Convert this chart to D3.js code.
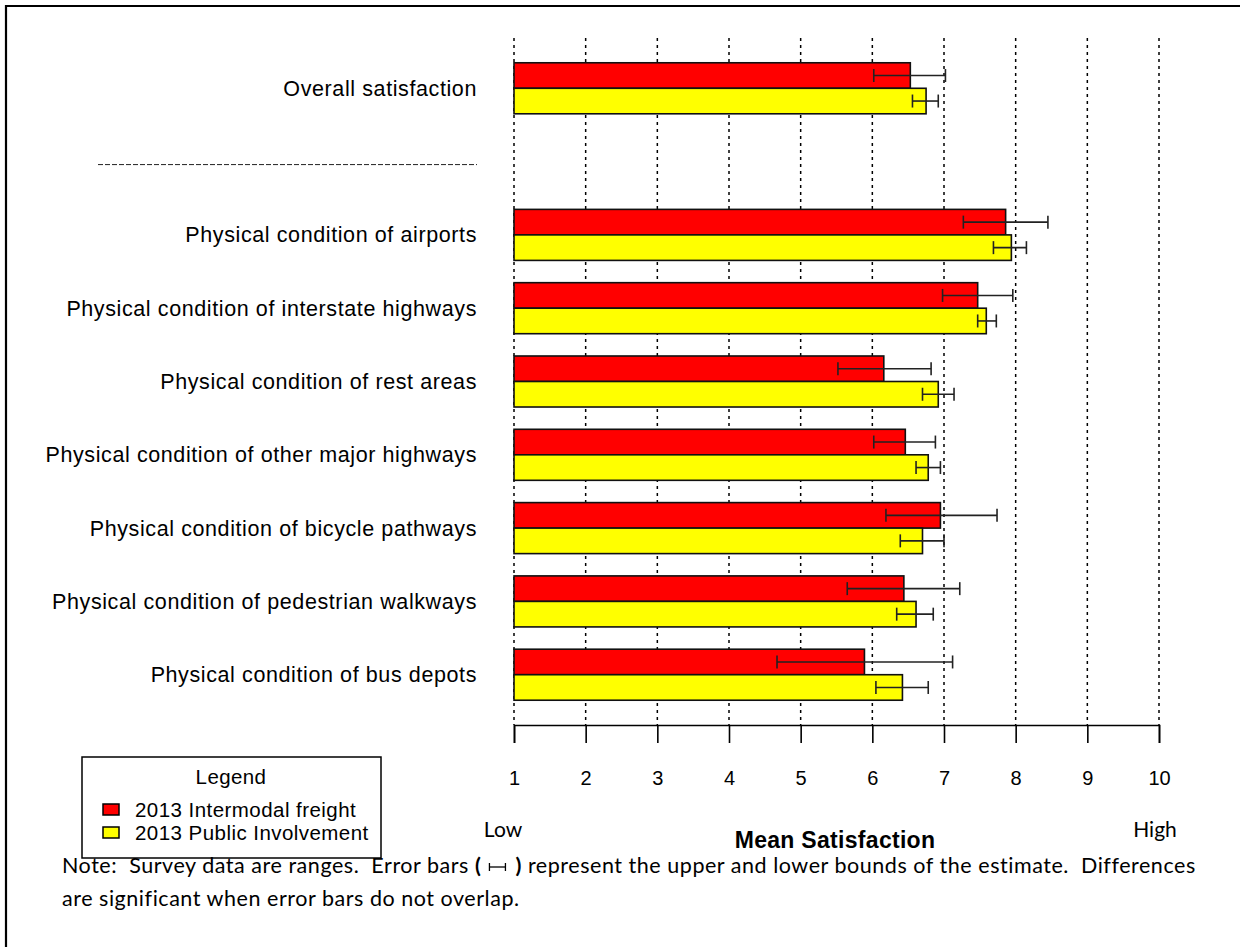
<!DOCTYPE html>
<html>
<head>
<meta charset="utf-8">
<script src="https://cdn.jsdelivr.net/npm/d3@7"></script>
<style>
  html, body { margin: 0; padding: 0; background: #fff; }
  svg { display: block; }
  text { white-space: pre; }
</style>
</head>
<body>
<svg id="chart" width="1240" height="947"></svg>
<script>
// ---- data ----
const categories = [
  "Overall satisfaction",
  "Physical condition of airports",
  "Physical condition of interstate highways",
  "Physical condition of rest areas",
  "Physical condition of other major highways",
  "Physical condition of bicycle pathways",
  "Physical condition of pedestrian walkways",
  "Physical condition of bus depots"
];
const seriesNames = ["2013 Intermodal freight", "2013 Public Involvement"];
const seriesColors = ["#FF0000", "#FFFF00"];
const freightMean = [6.53, 7.86, 7.47, 6.16, 6.46, 6.95, 6.44, 5.89];
const freightLow  = [6.02, 7.27, 6.98, 5.52, 6.02, 6.19, 5.65, 4.67];
const freightHigh = [7.02, 8.45, 7.96, 6.82, 6.88, 7.74, 7.22, 7.12];
const publicMean  = [6.75, 7.94, 7.59, 6.92, 6.78, 6.70, 6.61, 6.42];
const publicLow   = [6.56, 7.69, 7.47, 6.70, 6.61, 6.39, 6.34, 6.05];
const publicHigh  = [6.92, 8.15, 7.73, 7.14, 6.95, 7.00, 6.85, 6.78];
const xTicks = [1, 2, 3, 4, 5, 6, 7, 8, 9, 10];
const separatorKey = "__separator__";
const xTitle = "Mean Satisfaction";
const lowLabel = "Low", highLabel = "High";
const noteLine1a = "Note:  Survey data are ranges.  Error bars ";
const noteLine1b = " represent the upper and lower bounds of the estimate.  Differences";
const noteLine2 = "are significant when error bars do not overlap.";

// ---- layout ----
const svg = d3.select("#chart");
const SANS = "'Liberation Sans', Arial, sans-serif";
const slots = [categories[0], separatorKey].concat(categories.slice(1));
const x = d3.scaleLinear().domain([1, 10]).range([514, 1159]);
const y = d3.scaleBand().domain(slots).range([38, 725]).paddingInner(0.304).paddingOuter(0.338);
const ySub = d3.scaleBand().domain([0, 1]).range([0, y.bandwidth()]);

const rows = categories.map((c, i) => ({
  cat: c,
  vals: [
    { s: 0, mean: freightMean[i], lo: freightLow[i], hi: freightHigh[i] },
    { s: 1, mean: publicMean[i], lo: publicLow[i], hi: publicHigh[i] }
  ]
}));

// frame
svg.append("path").attr("d", "M6,947 V6 H1240").attr("fill", "none").attr("stroke", "#000").attr("stroke-width", 2.2);

// gridlines
svg.append("g").selectAll("line").data(xTicks).join("line")
  .attr("x1", d => x(d)).attr("x2", d => x(d))
  .attr("y1", 38).attr("y2", 725)
  .attr("stroke", "#000").attr("stroke-width", 1.5).attr("stroke-dasharray", "3,4");

// bars
const groups = svg.append("g").selectAll("g").data(rows).join("g")
  .attr("transform", d => `translate(0,${y(d.cat)})`);
groups.selectAll("rect").data(d => d.vals).join("rect")
  .attr("x", x(1)).attr("y", d => ySub(d.s))
  .attr("width", d => x(d.mean) - x(1)).attr("height", ySub.bandwidth())
  .attr("fill", d => seriesColors[d.s]).attr("stroke", "#111").attr("stroke-width", 1.6);

// error bars
const eb = groups.selectAll("g.eb").data(d => d.vals).join("g").attr("class", "eb")
  .attr("stroke", "#222").attr("stroke-width", 1.6);
const mid = d => ySub(d.s) + ySub.bandwidth() / 2;
eb.append("line").attr("x1", d => x(d.lo)).attr("x2", d => x(d.hi)).attr("y1", mid).attr("y2", mid);
eb.append("line").attr("x1", d => x(d.lo)).attr("x2", d => x(d.lo))
  .attr("y1", d => mid(d) - 6.5).attr("y2", d => mid(d) + 6.5);
eb.append("line").attr("x1", d => x(d.hi)).attr("x2", d => x(d.hi))
  .attr("y1", d => mid(d) - 6.5).attr("y2", d => mid(d) + 6.5);

// category labels
svg.append("g").selectAll("text").data(categories).join("text")
  .attr("x", 477).attr("y", d => y(d) + y.bandwidth() / 2)
  .attr("dy", "0.35em").attr("text-anchor", "end")
  .attr("font-family", SANS).attr("font-size", 21.5).attr("letter-spacing", 0.6).attr("fill", "#000")
  .text(d => d);

// separator
const sepY = y(separatorKey) + y.bandwidth() / 2 + 3;
svg.append("line").attr("x1", 98).attr("x2", 477).attr("y1", sepY).attr("y2", sepY)
  .attr("stroke", "#222").attr("stroke-width", 1).attr("stroke-dasharray", "5,2");

// x axis
const axis = svg.append("g").attr("transform", "translate(0,725)")
  .call(d3.axisBottom(x).tickValues(xTicks).tickSize(18).tickPadding(28).tickFormat(d3.format("d")));
axis.select(".domain").attr("stroke", "#000").attr("stroke-width", 1.6);
axis.selectAll(".tick line").attr("stroke", "#000").attr("stroke-width", 1.6);
axis.selectAll(".tick text").attr("font-family", SANS).attr("font-size", 20).attr("fill", "#000");

const NOTEF = "Lato, 'Open Sans', sans-serif";
svg.append("text").attr("x", x(1) - 11).attr("y", 837).attr("text-anchor", "middle")
  .attr("font-family", NOTEF).attr("font-size", 21).text(lowLabel);
svg.append("text").attr("x", x(10) - 4).attr("y", 837).attr("text-anchor", "middle")
  .attr("font-family", NOTEF).attr("font-size", 21).text(highLabel);
svg.append("text").attr("x", 835).attr("y", 848).attr("text-anchor", "middle")
  .attr("font-family", SANS).attr("font-weight", "bold").attr("font-size", 23).attr("letter-spacing", 0.3)
  .text(xTitle);

// legend
const lg = svg.append("g");
lg.append("rect").attr("x", 82).attr("y", 757).attr("width", 299).attr("height", 101)
  .attr("fill", "#fff").attr("stroke", "#000").attr("stroke-width", 1.5);
lg.append("text").attr("x", 231).attr("y", 777).attr("dy", "0.35em").attr("text-anchor", "middle")
  .attr("font-family", SANS).attr("font-size", 20.5).attr("letter-spacing", 0.4).text("Legend");
seriesNames.forEach((n, i) => {
  const yy = 810 + i * 23;
  lg.append("rect").attr("x", 103).attr("y", yy - 6).attr("width", 16).attr("height", 11)
    .attr("fill", seriesColors[i]).attr("stroke", "#000").attr("stroke-width", 1.5);
  lg.append("text").attr("x", 135).attr("y", yy).attr("dy", "0.35em")
    .attr("font-family", SANS).attr("font-size", 20.5).attr("letter-spacing", 0.45).text(n);
});

// note
const noteSize = 21.5;
const nb = svg.append("g").attr("font-family", NOTEF).attr("font-size", noteSize).attr("fill", "#000");
const baseY1 = 873, baseY2 = 906;
const iconW = 16 + 18;
const probe = nb.append("text").text(noteLine1a + "()" + noteLine1b);
const natural = probe.node().getComputedTextLength();
const nChars = (noteLine1a + "()" + noteLine1b).length;
probe.remove();
const ls = Math.max(0, Math.min(0.8, (1195 - 62 - iconW - natural) / nChars));
nb.attr("letter-spacing", ls);
let cx = 62;
const t1 = nb.append("text").attr("x", cx).attr("y", baseY1).text(noteLine1a);
cx += t1.node().getComputedTextLength();
const p1 = nb.append("text").attr("x", cx).attr("y", baseY1).attr("font-weight", "bold").text("(");
cx += p1.node().getComputedTextLength() + 8;
const icon = nb.append("g").attr("stroke", "#000").attr("stroke-width", 1.3);
icon.append("line").attr("x1", cx).attr("x2", cx + 16).attr("y1", baseY1 - 6).attr("y2", baseY1 - 6);
icon.append("line").attr("x1", cx).attr("x2", cx).attr("y1", baseY1 - 10).attr("y2", baseY1 - 2);
icon.append("line").attr("x1", cx + 16).attr("x2", cx + 16).attr("y1", baseY1 - 10).attr("y2", baseY1 - 2);
cx += 16 + 10;
const p2 = nb.append("text").attr("x", cx).attr("y", baseY1).attr("font-weight", "bold").text(")");
cx += p2.node().getComputedTextLength();
nb.append("text").attr("x", cx).attr("y", baseY1).text(noteLine1b);
nb.append("text").attr("x", 62).attr("y", baseY2).text(noteLine2);
</script>
</body>
</html>
